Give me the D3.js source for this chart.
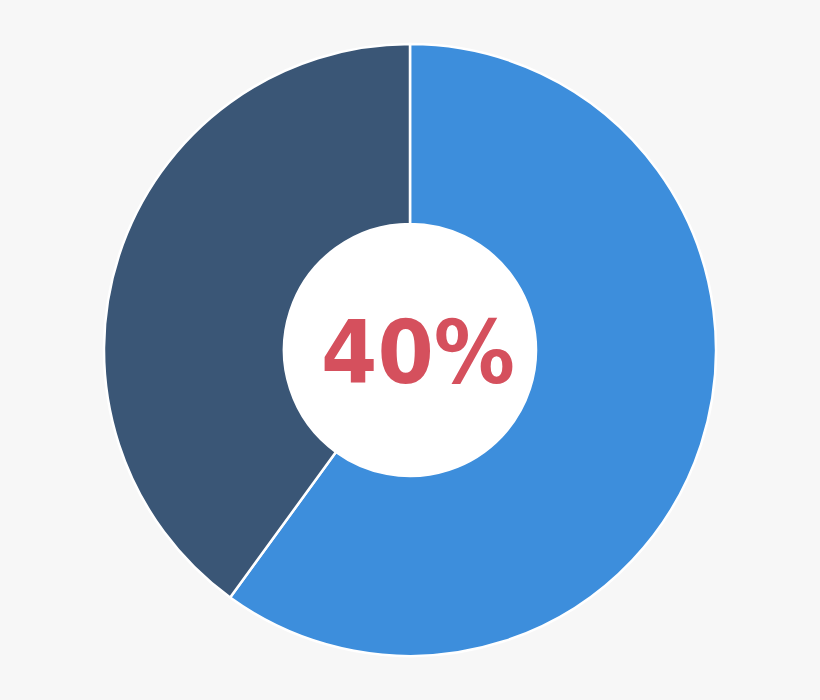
<!DOCTYPE html>
<html>
<head>
<meta charset="utf-8">
<script src="https://cdn.jsdelivr.net/npm/d3@7"></script>
<style>
  html, body { margin: 0; padding: 0; background: #f7f7f7; }
  #chart { width: 820px; height: 700px; }
</style>
</head>
<body>
<div id="chart"></div>
<script>
// 数据
var categories = ["完成", "剩余"];
var values = [60, 40];
var sliceColors = ["#3d8edc", "#3a5676"];
var centerLabel = "40%";

var width = 820, height = 700;
var cx = 410, cy = 350;
var outerR = 306, innerR = 126;

var svg = d3.select("#chart").append("svg")
  .attr("width", width)
  .attr("height", height);

var g = svg.append("g").attr("transform", `translate(${cx}, ${cy})`);

var color = d3.scaleOrdinal().domain(categories).range(sliceColors);

var pie = d3.pie().sort(null).value(d => d.v);
var arc = d3.arc().innerRadius(innerR).outerRadius(outerR);

var pieData = pie(categories.map((c, i) => ({ c: c, v: values[i] })));

g.selectAll("path.slice")
  .data(pieData)
  .join("path")
  .attr("class", "slice")
  .attr("d", arc)
  .attr("fill", d => color(d.data.c))
  .attr("stroke", "#ffffff")
  .attr("stroke-width", 2.5);

// 中心白圆
g.append("circle")
  .attr("r", innerR)
  .attr("fill", "#ffffff");

g.append("text")
  .attr("x", 8)
  .attr("y", 33)
  .attr("text-anchor", "middle")
  .attr("font-family", "DejaVu Sans")
  .attr("font-weight", "bold")
  .attr("font-size", 88)
  .attr("textLength", 194)
  .attr("lengthAdjust", "spacingAndGlyphs")
  .attr("fill", "#d5505d")
  .text(centerLabel);
</script>
</body>
</html>
